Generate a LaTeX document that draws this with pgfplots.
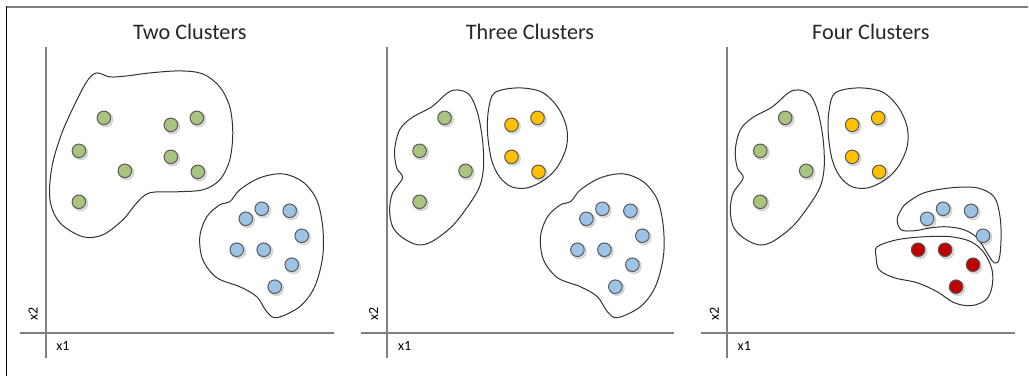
\documentclass[border=0pt]{standalone}
\usepackage{pgfplots}
\pgfplotsset{compat=1.18}
\usepackage{fontspec}
\setmainfont{Carlito}
\definecolor{cgreen}{RGB}{169,196,127}
\definecolor{cblue}{RGB}{157,195,230}
\definecolor{corange}{RGB}{255,192,0}
\definecolor{cred}{RGB}{192,0,0}
\definecolor{cedge}{RGB}{89,89,89}
\definecolor{caxis}{RGB}{128,128,128}
\definecolor{ctext}{RGB}{38,38,38}
\definecolor{cblob}{RGB}{50,50,50}
\pgfplotsset{
  panel/.style={xmin=-26,xmax=288,ymin=-25,ymax=286,x=0.5pt,y=0.5pt,
    axis lines=middle, axis line style={-,caxis,line width=1pt},
    xtick=\empty, ytick=\empty, clip=false, enlargelimits=false, anchor=south west},
  dots/.style={only marks, mark=*, mark size=3.4pt,
    mark options={draw=cedge, line width=0.5pt, fill=#1}},
  shadow/.style={only marks, mark=*, mark size=3.7pt,
    mark options={draw=none, fill=black, opacity=0.13, xshift=0.8pt, yshift=-0.8pt}},
  blob/.style={cblob, line width=0.5pt, smooth cycle, tension=0.55, mark=none},
}
\tikzset{
  ttl/.style={font=\fontsize{11.1pt}{12pt}\selectfont, text=ctext, anchor=base},
  lbl/.style={font=\fontsize{7pt}{8pt}\selectfont, text=black},
}
\begin{document}
\begin{tikzpicture}
% frame
\begin{axis}[name=frame, xmin=0,xmax=1029,ymin=0,ymax=376,x=0.5pt,y=0.5pt,
  axis line style={draw=none}, xtick=\empty, ytick=\empty, clip=false,
  enlargelimits=false, at={(0,0)}, anchor=south west]
\addplot[caxis, line width=1pt] coordinates {(6,369.3) (1029,369.3)};
\addplot[black, line width=0.75pt] coordinates {(6.3,369.8) (6.3,0)};
\end{axis}

% Panel 1
\begin{axis}[panel, at={(10pt,9pt)}]
\addplot[blob] coordinates {(51,260) (64,256) (81,257) (104,260) (134,262) (157,259) (174,246) (184,226) (187,200) (184,173) (174,153) (157,143) (131,141) (104,140) (91,130) (77,113) (57,98) (37,96) (14,110) (4,133) (6,166) (16,200) (31,233) (42,253)};
\addplot[blob] coordinates {(184,131) (194,143) (214,155) (237,159) (257,151) (271,133) (277,106) (277,76) (269,46) (254,26) (231,15) (221,21) (211,36) (194,46) (171,55) (157,73) (154,96) (161,116) (174,128)};
\addplot[shadow] coordinates {(58,215) (125,208) (151,215) (33,182) (79,162) (125,176) (152,161) (33,131)};
\addplot[dots=cgreen] coordinates {(58,215) (125,208) (151,215) (33,182) (79,162) (125,176) (152,161) (33,131)};
\addplot[shadow] coordinates {(200,114) (216,124) (244,122) (256,97) (191,83) (218,83) (246,68) (229,46)};
\addplot[dots=cblue] coordinates {(200,114) (216,124) (244,122) (256,97) (191,83) (218,83) (246,68) (229,46)};
\node[ttl] at (axis cs:144,293) {Two Clusters};
\node[lbl] at (axis cs:17,-13) {x1};
\node[lbl, rotate=90] at (axis cs:-13,19) {x2};
\end{axis}

% Panel 2
\begin{axis}[panel, at={(180.5pt,9pt)}]
\addplot[blob] coordinates {(71,243) (83,238) (91,220) (96,193) (97,166) (93,146) (81,126) (65,106) (45,91) (31,88) (16,95) (6,106) (3,123) (6,140) (16,155) (10,165) (8,183) (13,203) (25,215) (45,226) (61,240)};
\addplot[blob] coordinates {(108,240) (131,245) (155,241) (171,226) (180,206) (180,186) (171,166) (158,153) (141,145) (125,146) (113,156) (105,173) (101,200) (102,223)};
\addplot[blob] coordinates {(184,131) (194,143) (214,155) (237,159) (257,151) (271,133) (277,106) (277,76) (269,46) (254,26) (231,15) (221,21) (211,36) (194,46) (171,55) (157,73) (154,96) (161,116) (174,128)};
\addplot[shadow] coordinates {(58,215) (33,182) (79,162) (33,131) (125,208) (151,215) (125,176) (152,161)};
\addplot[dots=cgreen] coordinates {(58,215) (33,182) (79,162) (33,131)};
\addplot[dots=corange] coordinates {(125,208) (151,215) (125,176) (152,161)};
\addplot[shadow] coordinates {(200,114) (216,124) (244,122) (256,97) (191,83) (218,83) (246,68) (229,46)};
\addplot[dots=cblue] coordinates {(200,114) (216,124) (244,122) (256,97) (191,83) (218,83) (246,68) (229,46)};
\node[ttl] at (axis cs:143.5,293) {Three Clusters};
\node[lbl] at (axis cs:18,-13) {x1};
\node[lbl, rotate=90] at (axis cs:-13,19) {x2};
\end{axis}

% Panel 3
\begin{axis}[panel, at={(351pt,9pt)}]
\addplot[blob] coordinates {(71,243) (83,238) (91,220) (96,193) (97,166) (93,146) (81,126) (65,106) (45,91) (31,88) (16,95) (6,106) (3,123) (6,140) (16,155) (10,165) (8,183) (13,203) (25,215) (45,226) (61,240)};
\addplot[blob] coordinates {(108,240) (131,245) (155,241) (171,226) (180,206) (180,186) (171,166) (158,153) (141,145) (125,146) (113,156) (105,173) (101,200) (102,223)};
\addplot[blob] coordinates {(180,130) (197,140) (224,145) (250,145) (267,136) (273,116) (274,93) (272,73) (267,70) (260,80) (250,95) (237,103) (220,106) (204,105) (187,102) (174,103) (170,113) (174,123)};
\addplot[blob] coordinates {(150,86) (170,93) (197,96) (224,96) (244,91) (257,80) (265,63) (265,46) (259,33) (244,27) (227,30) (210,41) (190,50) (167,55) (152,63) (149,76)};
\addplot[shadow] coordinates {(58,215) (33,182) (79,162) (33,131) (125,208) (151,215) (125,176) (152,161)};
\addplot[dots=cgreen] coordinates {(58,215) (33,182) (79,162) (33,131)};
\addplot[dots=corange] coordinates {(125,208) (151,215) (125,176) (152,161)};
\addplot[shadow] coordinates {(200,114) (216,124) (244,122) (256,97) (191,83) (218,83) (246,68) (229,46)};
\addplot[dots=cblue] coordinates {(200,114) (216,124) (244,122) (256,97)};
\addplot[dots=cred] coordinates {(191,83) (218,83) (246,68) (229,46)};
\node[ttl] at (axis cs:143.7,293) {Four Clusters};
\node[lbl] at (axis cs:17,-13) {x1};
\node[lbl, rotate=90] at (axis cs:-13,19) {x2};
\end{axis}
\end{tikzpicture}
\end{document}
